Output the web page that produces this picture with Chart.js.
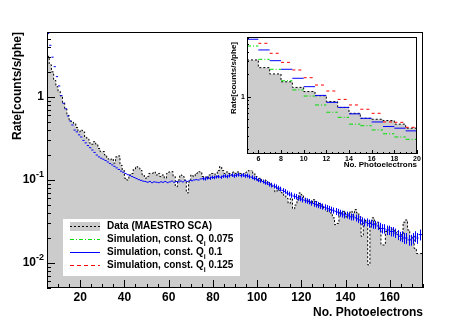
<!DOCTYPE html>
<html>
<head>
<meta charset="utf-8">
<script src="https://cdn.jsdelivr.net/npm/chart.js@4/dist/chart.umd.min.js"></script>
<style>
  body { margin: 0; background: #fff; }
  #wrap { position: relative; width: 471px; height: 322px; }
  #main { position: absolute; left: 0; top: 0; }
  #inset { position: absolute; left: 226px; top: 33px; background: #fff; }
</style>
</head>
<body>
<div id="wrap">
  <canvas id="main" width="471" height="322"></canvas>
  <canvas id="inset" width="196" height="137"></canvas>
</div>
<script>
// histogram bins are 1 phe wide, first bin starts at 5
const firstBin = 5;

// measured rate, bins 5..174
const dataRate = [
  3.09, 2.44, 2.01, 1.58, 1.33, 1.17, 1.03, 0.86, 0.72, 0.60,
  0.515, 0.50, 0.48, 0.43, 0.38, 0.40, 0.38, 0.33, 0.31, 0.28,
  0.27, 0.29, 0.27, 0.24, 0.22, 0.22, 0.20, 0.18, 0.175, 0.18,
  0.16, 0.19, 0.195, 0.15, 0.13, 0.105, 0.10, 0.115, 0.12, 0.135,
  0.145, 0.14, 0.13, 0.115, 0.105, 0.11, 0.12, 0.12, 0.125, 0.115,
  0.12, 0.11, 0.115, 0.105, 0.12, 0.125, 0.126, 0.11, 0.083, 0.10,
  0.115, 0.11, 0.10, 0.07, 0.095, 0.115, 0.11, 0.12, 0.126, 0.125,
  0.11, 0.11, 0.105, 0.115, 0.12, 0.12, 0.11, 0.13, 0.145, 0.13,
  0.12, 0.125, 0.12, 0.115, 0.125, 0.12, 0.125, 0.12, 0.118, 0.122,
  0.125, 0.13, 0.133, 0.12, 0.11, 0.10, 0.105, 0.095, 0.10, 0.095,
  0.09, 0.085, 0.083, 0.072, 0.08, 0.075, 0.07, 0.065, 0.06, 0.052,
  0.06, 0.045, 0.05, 0.058, 0.07, 0.066, 0.06, 0.058, 0.055, 0.053,
  0.058, 0.055, 0.05, 0.052, 0.05, 0.045, 0.042, 0.044, 0.04, 0.035,
  0.029, 0.03, 0.041, 0.04, 0.042, 0.036, 0.04, 0.042, 0.038, 0.044,
  0.04, 0.036, 0.021, 0.03, 0.033, 0.0095, 0.032, 0.035, 0.03, 0.031,
  0.026, 0.0165, 0.0165, 0.024, 0.027, 0.026, 0.025, 0.023, 0.024, 0.019,
  0.022, 0.031, 0.033, 0.025, 0.02, 0.021, 0.015, 0.013, 0.013, 0.013
];

// simulation, Qi = 0.1, bins 5..174
const simQ100 = [
  5.83, 4.2, 3.02, 2.32, 1.76, 1.36, 1.04, 0.84, 0.72, 0.59,
  0.515, 0.46, 0.40, 0.38, 0.35, 0.33, 0.30, 0.28, 0.26, 0.245,
  0.23, 0.215, 0.20, 0.19, 0.183, 0.178, 0.172, 0.165, 0.158, 0.152,
  0.146, 0.14, 0.134, 0.128, 0.124, 0.12, 0.116, 0.113, 0.11, 0.107,
  0.104, 0.101, 0.099, 0.097, 0.096, 0.094, 0.096, 0.093, 0.095, 0.094,
  0.093, 0.095, 0.094, 0.096, 0.093, 0.095, 0.097, 0.094, 0.096, 0.095,
  0.097, 0.095, 0.098, 0.096, 0.099, 0.098, 0.1, 0.101, 0.1, 0.103,
  0.104, 0.103, 0.106, 0.105, 0.108, 0.107, 0.109, 0.11, 0.108, 0.111,
  0.112, 0.11, 0.113, 0.115, 0.112, 0.114, 0.116, 0.113, 0.115, 0.112,
  0.113, 0.11, 0.108, 0.105, 0.104, 0.1, 0.098, 0.096, 0.093, 0.092,
  0.089, 0.087, 0.085, 0.083, 0.08, 0.078, 0.075, 0.073, 0.07, 0.068,
  0.066, 0.064, 0.063, 0.061, 0.06, 0.058, 0.057, 0.056, 0.055, 0.053,
  0.052, 0.051, 0.05, 0.049, 0.048, 0.047, 0.046, 0.045, 0.044, 0.043,
  0.042, 0.041, 0.04, 0.039, 0.038, 0.038, 0.037, 0.036, 0.036, 0.035,
  0.034, 0.033, 0.032, 0.031, 0.031, 0.03, 0.03, 0.029, 0.029, 0.028,
  0.027, 0.026, 0.026, 0.025, 0.025, 0.024, 0.024, 0.023, 0.022, 0.021,
  0.021, 0.02, 0.02, 0.019, 0.019, 0.02, 0.021, 0.02, 0.022, 0.022
];

// relative error of the Qi = 0.1 simulation, one value per block of 10 bins (5-14, 15-24, ...)
const simQ100RelErr = [0.01, 0.015, 0.02, 0.025, 0.03, 0.035, 0.04, 0.045, 0.05, 0.055,
  0.065, 0.075, 0.085, 0.095, 0.11, 0.13, 0.15];

// other simulations, only in the zoom (bins 5..19)
const simQ075 = [4.74, 3.15, 2.32, 1.63, 1.23, 1.02, 0.775, 0.62, 0.53, 0.43, 0.41, 0.36, 0.32, 0.29, 0.27];
const simQ125 = [7.5, 5.15, 3.79, 2.87, 2.27, 1.79, 1.43, 1.19, 0.92, 0.775, 0.68, 0.60, 0.46, 0.455, 0.39];
const insetBins = 15;

const mainXLabels = [20, 40, 60, 80, 100, 120, 140, 160];
const insetXLabels = [6, 8, 10, 12, 14, 16, 18, 20];
const mainYLabels = [1, 0.1, 0.01];
const insetYLabels = [1];

const legendLabels = [
  'Data (MAESTRO SCA)',
  'Simulation, const. Q_i 0.075',
  'Simulation, const. Q_i 0.1',
  'Simulation, const. Q_i 0.125'
];

const GRAY = '#cccccc';
const GREEN = '#00dd00';
const BLUE = '#0000ff';
const RED = '#ff0000';
const FONT = '"Liberation Sans", Arial, sans-serif';

const legendItems = [
  { text: legendLabels[0], color: '#000', dash: [2, 2], fill: GRAY },
  { text: legendLabels[1], color: GREEN, dash: [4, 2, 1, 2], fill: null },
  { text: legendLabels[2], color: BLUE, dash: [], fill: null },
  { text: legendLabels[3], color: RED, dash: [4, 3], fill: null }
];

// step histogram: one point per bin edge
function histPoints(vals, first) {
  const pts = vals.map((v, i) => ({ x: first + i, y: v }));
  pts.push({ x: first + vals.length, y: vals[vals.length - 1] });
  return pts;
}

// horizontal bar per bin, no vertical joins
function segPoints(vals, first) {
  const pts = [];
  vals.forEach((v, i) => {
    pts.push({ x: first + i, y: v }, { x: first + i + 1, y: v }, { x: first + i + 1, y: null });
  });
  return pts;
}

// ROOT-like frame, inward ticks, labels and titles
const rootAxes = {
  id: 'rootAxes',
  afterDraw(chart, args, o) {
    const { ctx, chartArea: a, scales: { x, y } } = chart;
    ctx.save();
    ctx.strokeStyle = '#000';
    ctx.lineWidth = 1;
    ctx.strokeRect(a.left + 0.5, a.top + 0.5, a.right - a.left - 1, a.bottom - a.top - 1);

    ctx.beginPath();
    for (let k = Math.ceil(x.min / o.xMinor); k * o.xMinor <= x.max; k++) {
      const v = k * o.xMinor;
      const px = Math.round(x.getPixelForValue(v)) + 0.5;
      const len = v % o.xMajor === 0 ? o.majorLen : o.minorLen;
      ctx.moveTo(px, a.bottom);
      ctx.lineTo(px, a.bottom - len);
    }
    const d0 = Math.floor(Math.log10(y.min)), d1 = Math.ceil(Math.log10(y.max));
    for (let d = d0; d <= d1; d++) {
      for (let m = 1; m <= 9; m++) {
        const v = m * Math.pow(10, d);
        if (v < y.min || v > y.max) continue;
        const py = Math.round(y.getPixelForValue(v)) + 0.5;
        const len = m === 1 ? o.majorLen : o.minorLen;
        ctx.moveTo(a.left, py);
        ctx.lineTo(a.left + len, py);
      }
    }
    ctx.stroke();

    ctx.fillStyle = '#000';
    ctx.font = o.font;
    ctx.textAlign = 'center';
    ctx.textBaseline = 'top';
    o.xLabels.forEach(v => ctx.fillText(String(v), x.getPixelForValue(v), a.bottom + o.xLabelGap));

    ctx.textBaseline = 'middle';
    const right = a.left - o.yLabelGap;
    o.yLabels.forEach(v => {
      const py = y.getPixelForValue(v);
      const e = Math.round(Math.log10(v));
      if (e === 0) {
        ctx.font = o.font;
        ctx.textAlign = 'right';
        ctx.fillText('1', right, py);
      } else {
        const sup = String(e);
        ctx.font = o.supFont;
        const ws = ctx.measureText(sup).width;
        ctx.font = o.font;
        const wb = ctx.measureText('10').width;
        ctx.textAlign = 'left';
        ctx.fillText('10', right - ws - wb, py);
        ctx.font = o.supFont;
        ctx.fillText(sup, right - ws, py - o.supRaise);
      }
    });

    ctx.font = o.titleFont;
    ctx.textAlign = 'right';
    ctx.textBaseline = 'alphabetic';
    ctx.fillText(o.xTitle, a.right + o.xTitleDx, a.bottom + o.xTitleDy);
    ctx.translate(o.yTitleX, a.top + o.yTitleDy);
    ctx.rotate(-Math.PI / 2);
    ctx.fillText(o.yTitle, 0, 0);
    ctx.restore();
  }
};

// vertical error bars on the Qi = 0.1 simulation (main plot), only where visible
const simErrors = {
  id: 'simErrors',
  afterDatasetsDraw(chart) {
    const { ctx, chartArea: a, scales: { x, y } } = chart;
    ctx.save();
    ctx.beginPath();
    ctx.rect(a.left, a.top, a.right - a.left, a.bottom - a.top);
    ctx.clip();
    ctx.strokeStyle = BLUE;
    ctx.lineWidth = 1;
    ctx.beginPath();
    simQ100.forEach((v, i) => {
      const e = v * simQ100RelErr[Math.floor(i / 10)];
      const top = y.getPixelForValue(v + e);
      const bot = y.getPixelForValue(v - e);
      if (bot - top < 3) return;
      const px = Math.round(x.getPixelForValue(firstBin + i + 0.5)) + 0.5;
      ctx.moveTo(px, top);
      ctx.lineTo(px, bot);
    });
    ctx.stroke();
    ctx.restore();
  }
};

const rootLegend = {
  id: 'rootLegend',
  afterDraw(chart) {
    const ctx = chart.ctx;
    const box = { x: 63, y: 219, w: 177, h: 57, rowTop: 7, rowH: 13 };
    ctx.save();
    ctx.fillStyle = '#fff';
    ctx.fillRect(box.x, box.y, box.w, box.h);
    legendItems.forEach((it, i) => {
      const cy = box.y + box.rowTop + i * box.rowH;
      if (it.fill) {
        ctx.fillStyle = it.fill;
        ctx.fillRect(box.x + 7, cy - 4, 30, 9);
      }
      ctx.strokeStyle = it.color;
      ctx.lineWidth = 1;
      ctx.setLineDash(it.dash);
      ctx.beginPath();
      ctx.moveTo(box.x + 7, cy + 0.5);
      ctx.lineTo(box.x + 37, cy + 0.5);
      ctx.stroke();
      ctx.setLineDash([]);

      ctx.fillStyle = '#000';
      ctx.textAlign = 'left';
      ctx.textBaseline = 'middle';
      const parts = it.text.split('_');
      let tx = box.x + 44;
      ctx.font = 'bold 10px ' + FONT;
      ctx.fillText(parts[0], tx, cy);
      tx += ctx.measureText(parts[0]).width;
      if (parts.length > 1) {
        const sub = parts[1].charAt(0);
        const tail = parts[1].slice(1);
        ctx.font = 'bold 7px ' + FONT;
        ctx.fillText(sub, tx, cy + 5);
        tx += ctx.measureText(sub).width;
        ctx.font = 'bold 10px ' + FONT;
        ctx.fillText(tail, tx, cy);
      }
    });
    ctx.restore();
  }
};

const mainChart = new Chart(document.getElementById('main'), {
  type: 'line',
  data: {
    datasets: [
      {
        label: legendLabels[0],
        data: histPoints(dataRate, firstBin),
        stepped: true,
        fill: 'start',
        backgroundColor: GRAY,
        borderColor: '#000',
        borderWidth: 1,
        borderDash: [2, 2],
        pointRadius: 0,
        order: 2
      },
      {
        label: legendLabels[2],
        data: segPoints(simQ100, firstBin),
        borderColor: BLUE,
        borderWidth: 1,
        pointRadius: 0,
        spanGaps: false,
        order: 1
      }
    ]
  },
  options: {
    responsive: false,
    animation: false,
    layout: { padding: { left: 47, right: 48, top: 32, bottom: 34 } },
    scales: {
      x: { type: 'linear', min: 5, max: 175, display: false },
      y: { type: 'logarithmic', min: 0.005, max: 6.07, display: false }
    },
    plugins: {
      legend: { display: false },
      tooltip: { enabled: false },
      rootAxes: {
        xMinor: 5, xMajor: 20, majorLen: 8, minorLen: 4,
        xLabels: mainXLabels, yLabels: mainYLabels,
        font: 'bold 12px ' + FONT, supFont: 'bold 9px ' + FONT, supRaise: 5,
        titleFont: 'bold 12px ' + FONT,
        xLabelGap: 4, yLabelGap: 3,
        xTitle: 'No. Photoelectrons', xTitleDx: 0, xTitleDy: 28,
        yTitle: 'Rate[counts/s/phe]', yTitleX: 21, yTitleDy: 0
      }
    }
  },
  plugins: [simErrors, rootAxes, rootLegend]
});

const insetChart = new Chart(document.getElementById('inset'), {
  type: 'line',
  data: {
    datasets: [
      {
        label: legendLabels[0],
        data: histPoints(dataRate.slice(0, insetBins), firstBin),
        stepped: true,
        fill: 'start',
        backgroundColor: GRAY,
        borderColor: '#000',
        borderWidth: 1,
        borderDash: [2, 2],
        pointRadius: 0,
        order: 4
      },
      {
        label: legendLabels[1],
        data: segPoints(simQ075, firstBin),
        borderColor: GREEN,
        borderWidth: 1,
        borderDash: [4, 2, 1, 2],
        pointRadius: 0,
        order: 3
      },
      {
        label: legendLabels[3],
        data: segPoints(simQ125, firstBin),
        borderColor: RED,
        borderWidth: 1,
        borderDash: [3, 3],
        pointRadius: 0,
        order: 2
      },
      {
        label: legendLabels[2],
        data: segPoints(simQ100.slice(0, insetBins), firstBin),
        borderColor: BLUE,
        borderWidth: 1,
        pointRadius: 0,
        order: 1
      }
    ]
  },
  options: {
    responsive: false,
    animation: false,
    layout: { padding: { left: 21, right: 5, top: 4, bottom: 16 } },
    scales: {
      x: { type: 'linear', min: 5, max: 20, display: false },
      y: { type: 'logarithmic', min: 0.172, max: 6.25, display: false }
    },
    plugins: {
      legend: { display: false },
      tooltip: { enabled: false },
      rootAxes: {
        xMinor: 0.5, xMajor: 2, majorLen: 4, minorLen: 2,
        xLabels: insetXLabels, yLabels: insetYLabels,
        font: 'bold 7px ' + FONT, supFont: 'bold 5px ' + FONT, supRaise: 3,
        titleFont: 'bold 8px ' + FONT,
        xLabelGap: 1.5, yLabelGap: 2,
        xTitle: 'No. Photoelectrons', xTitleDx: 0, xTitleDy: 13,
        yTitle: 'Rate[counts/s/phe]', yTitleX: 10, yTitleDy: 5
      }
    }
  },
  plugins: [rootAxes]
});
</script>
</body>
</html>
